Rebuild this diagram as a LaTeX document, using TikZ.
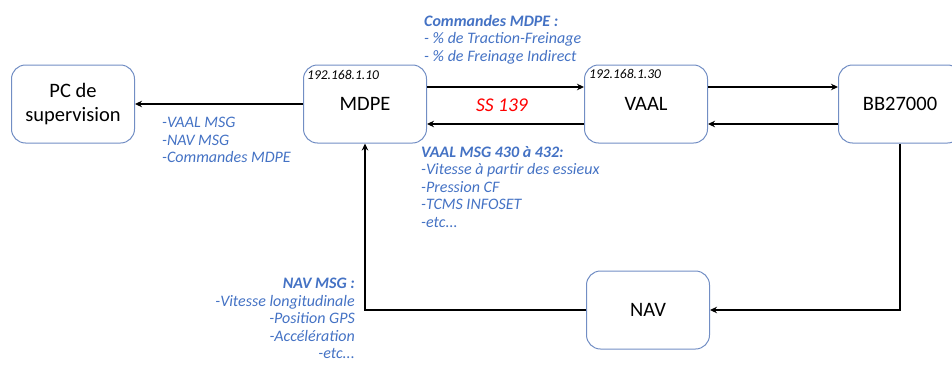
\documentclass[tikz,border=0pt]{standalone}
\usepackage{fontspec}
\setmainfont{Carlito}
\usetikzlibrary{arrows.meta}
\definecolor{bordure}{RGB}{114,142,196}
\definecolor{bleumsg}{RGB}{68,114,196}
\definecolor{rougess}{RGB}{255,0,0}

\begin{document}
\begin{tikzpicture}[
    x=1pt,
    y=-1pt,
    >={Stealth[length=7pt,width=6.5pt]},
    bloc/.style={
        draw=bordure,
        line width=1pt,
        rounded corners=14pt,
        minimum width=123pt,
        minimum height=78pt,
        align=center,
        font=\fontsize{20.5}{24}\selectfont
    },
    adresse/.style={
        anchor=north west,
        inner sep=0pt,
        font=\fontsize{13.5}{15}\selectfont\itshape
    },
    message/.style={
        inner sep=0pt,
        text=bleumsg,
        font=\fontsize{16}{17.5}\selectfont\itshape
    },
    liaison/.style={
        line width=2pt
    }
]
    \useasboundingbox (0,0) rectangle (952,364);

    \node[bloc] (pc) at (73,104)
        {PC de\\supervision};
    \node[bloc] (mdpe) at (365,104)
        {MDPE};
    \node[bloc] (vaal) at (646,104)
        {VAAL};
    \node[bloc] (bb) at (900,104)
        {BB27000};
    \node[bloc] (nav) at (648,310)
        {NAV};

    \node[adresse] (ip-mdpe) at (307,70)
        {192.168.1.10};
    \node[adresse] (ip-vaal) at (589,69)
        {192.168.1.30};

    \node[
        text=rougess,
        font=\fontsize{19.5}{21}\selectfont\itshape
    ] (ss) at (502,105)
        {SS 139};

    \draw[->,liaison] (mdpe) -- (pc);
    \draw[->,liaison] ([yshift=17pt]mdpe.east) -- ([yshift=17pt]vaal.west);
    \draw[->,liaison] ([yshift=-20pt]vaal.west) -- ([yshift=-20pt]mdpe.east);
    \draw[->,liaison] ([yshift=17pt]vaal.east) -- ([yshift=17pt]bb.west);
    \draw[->,liaison] ([yshift=-20pt]bb.west) -- ([yshift=-20pt]vaal.east);
    \draw[->,liaison] (bb.south) |- (nav.east);
    \draw[->,liaison] (nav.west) -| (mdpe.south);

    \node[message, anchor=north west, align=left] (cmd) at (424,15)
        {\textbf{Commandes MDPE :}\\
         - \% de Traction-Freinage\\
         - \% de Freinage Indirect};
    \node[message, anchor=north west, align=left] (vaal-msg) at (421,146)
        {\textbf{VAAL MSG 430 à 432:}\\
         -Vitesse à partir des essieux\\
         -Pression CF\\
         -TCMS INFOSET\\
         -etc...};
    \node[message, anchor=north west, align=left] (supervision) at (162,117)
        {-VAAL MSG\\
         -NAV MSG\\
         -Commandes MDPE};
    \node[message, anchor=north east, align=right] (nav-msg) at (355,278)
        {\textbf{NAV MSG :}\\
         -Vitesse longitudinale\\
         -Position GPS\\
         -Accélération\\
         -etc...};
\end{tikzpicture}
\end{document}
